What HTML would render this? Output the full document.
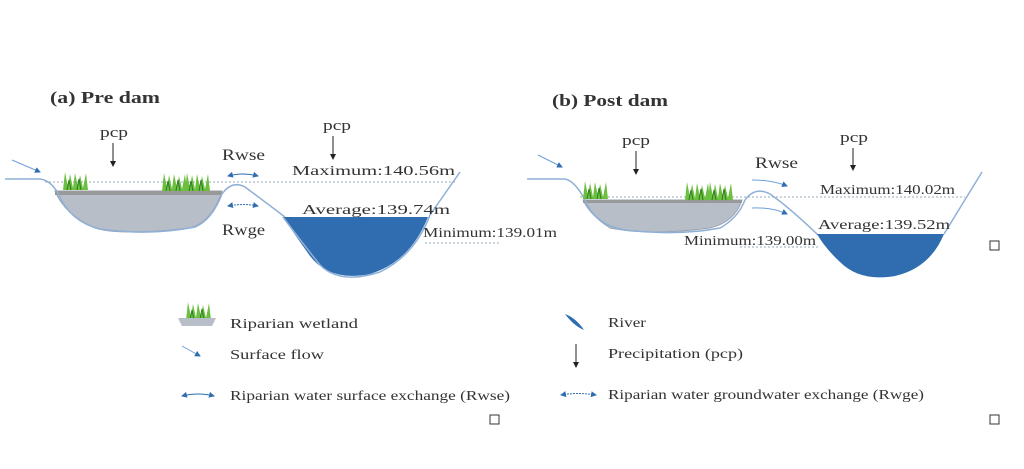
<!DOCTYPE html><html><head><style>body{margin:0;background:#fff}svg{display:block}text{font-family:"Liberation Serif",serif;fill:#333}</style></head><body>
<svg width="1024" height="469" viewBox="0 0 1024 469">
<defs>
<marker id="ah" markerWidth="6" markerHeight="6" refX="5" refY="3" orient="auto"><path d="M0,0L6,3L0,6z" fill="#2f6db0"/></marker>
<marker id="ahs" markerWidth="6" markerHeight="6" refX="1" refY="3" orient="auto"><path d="M6,0L0,3L6,6z" fill="#2f6db0"/></marker>
<marker id="ak" markerWidth="6" markerHeight="6" refX="5" refY="3" orient="auto"><path d="M0,0L6,3L0,6z" fill="#222"/></marker>
<g id="grass"><path d="M0,18 L2,0 L5,15 L7,2 L10,16 L12,1 L15,15 L17,3 L20,16 L23,1 L25,18 Z" fill="#6cbf3f"/><path d="M4,18 L6,8 L8,18 M14,18 L16,7 L18,18" stroke="#2e7d22" fill="none"/></g>
</defs>
<g lengthAdjust="spacingAndGlyphs">
<text x="50" y="103" font-size="17" font-weight="bold" fill="#222" textLength="110" lengthAdjust="spacingAndGlyphs">(a) Pre dam</text>
<path d="M55,191 L222,191 Q212,222 190,228 Q120,236 95,228 Q65,215 55,191Z" fill="#b7bec8" stroke="#9aa3b0"/>
<rect x="55" y="191" width="167" height="4" fill="#999"/>
<path d="M5,179 L40,179 Q50,180 58,193 Q70,222 100,229 Q150,236 195,227 Q212,220 222,194 Q232,180 245,187 Q260,198 285,217" fill="none" stroke="#8fb0d6" stroke-width="1.5"/>
<path d="M283,217 L428,217 Q410,262 370,274 Q330,282 310,256 Q295,235 283,217Z" fill="#2f6db0"/>
<path d="M283,217 Q300,240 320,265 Q340,285 380,272 Q415,255 430,215 L460,172" fill="none" stroke="#8fb0d6" stroke-width="1.5"/>
<line x1="45" y1="182" x2="455" y2="182" stroke="#9ab" stroke-dasharray="2,2"/>
<line x1="425" y1="243" x2="500" y2="243" stroke="#9ab" stroke-dasharray="2,2"/>
<use href="#grass" x="63" y="172"/><use href="#grass" x="162" y="173"/><use href="#grass" x="185" y="173"/>
<line x1="12" y1="160" x2="40" y2="172" stroke="#6fa0d8" marker-end="url(#ah)"/>
<text x="100" y="137" font-size="15" textLength="28" lengthAdjust="spacingAndGlyphs">pcp</text><line x1="113" y1="143" x2="113" y2="166" stroke="#222" marker-end="url(#ak)"/>
<text x="323" y="130" font-size="15" textLength="28" lengthAdjust="spacingAndGlyphs">pcp</text><line x1="333" y1="136" x2="333" y2="159" stroke="#222" marker-end="url(#ak)"/>
<text x="222" y="160" font-size="16" textLength="43" lengthAdjust="spacingAndGlyphs">Rwse</text><text x="222" y="235" font-size="16" textLength="43" lengthAdjust="spacingAndGlyphs">Rwge</text>
<path d="M228,176 Q243,172 258,176" fill="none" stroke="#2f6db0" marker-end="url(#ah)" marker-start="url(#ahs)"/>
<path d="M228,206 Q243,203 258,206" fill="none" stroke="#2f6db0" stroke-dasharray="2,1" marker-end="url(#ah)" marker-start="url(#ahs)"/>
<text x="292" y="175" font-size="14" textLength="163" lengthAdjust="spacingAndGlyphs">Maximum:140.56m</text>
<text x="302" y="214" font-size="14" textLength="148" lengthAdjust="spacingAndGlyphs">Average:139.74m</text>
<text x="423" y="237" font-size="14" textLength="134" lengthAdjust="spacingAndGlyphs">Minimum:139.01m</text>
<text x="552" y="106" font-size="17" font-weight="bold" fill="#222" textLength="116" lengthAdjust="spacingAndGlyphs">(b) Post dam</text>
<path d="M583,200 L742,200 Q735,222 710,228 Q650,236 610,228 Q590,215 583,200Z" fill="#b7bec8" stroke="#9aa3b0"/>
<rect x="583" y="200" width="159" height="3" fill="#999"/>
<path d="M527,179 L565,179 Q575,181 585,200 Q595,225 625,230 Q680,236 720,228 Q738,218 745,200 Q755,186 770,194 Q790,208 818,235" fill="none" stroke="#8fb0d6" stroke-width="1.5"/>
<path d="M817,234 L944,234 Q930,268 895,276 Q860,282 840,262 Q825,248 817,234Z" fill="#2f6db0"/>
<path d="M944,234 L982,172" fill="none" stroke="#8fb0d6" stroke-width="1.5"/>
<line x1="580" y1="197" x2="965" y2="197" stroke="#9ab" stroke-dasharray="2,2"/>
<line x1="740" y1="247" x2="820" y2="247" stroke="#9ab" stroke-dasharray="2,2"/>
<use href="#grass" x="583" y="181"/><use href="#grass" x="685" y="182"/><use href="#grass" x="708" y="182"/>
<line x1="538" y1="155" x2="562" y2="167" stroke="#6fa0d8" marker-end="url(#ah)"/>
<text x="622" y="145" font-size="15" textLength="28" lengthAdjust="spacingAndGlyphs">pcp</text><line x1="636" y1="151" x2="636" y2="174" stroke="#222" marker-end="url(#ak)"/>
<text x="840" y="142" font-size="15" textLength="28" lengthAdjust="spacingAndGlyphs">pcp</text><line x1="853" y1="148" x2="853" y2="170" stroke="#222" marker-end="url(#ak)"/>
<text x="755" y="168" font-size="16" textLength="43" lengthAdjust="spacingAndGlyphs">Rwse</text>
<path d="M752,180 Q772,180 787,186" fill="none" stroke="#6fa0d8" marker-end="url(#ah)"/>
<path d="M752,208 Q772,207 787,214" fill="none" stroke="#6fa0d8" marker-end="url(#ah)"/>
<text x="820" y="194" font-size="14" textLength="135" lengthAdjust="spacingAndGlyphs">Maximum:140.02m</text>
<text x="818" y="229" font-size="14" textLength="132" lengthAdjust="spacingAndGlyphs">Average:139.52m</text>
<text x="684" y="245" font-size="14" textLength="132" lengthAdjust="spacingAndGlyphs">Minimum:139.00m</text>
<rect x="990" y="241" width="9" height="9" fill="none" stroke="#333"/>
<rect x="990" y="415" width="9" height="9" fill="none" stroke="#333"/>
<rect x="490" y="415" width="9" height="9" fill="none" stroke="#333"/>
<use href="#grass" x="186" y="302"/>
<path d="M178,318 L216,318 L212,326 L182,326Z" fill="#b7bec8"/>
<text x="230" y="328" font-size="14" textLength="128" lengthAdjust="spacingAndGlyphs">Riparian wetland</text>
<line x1="182" y1="346" x2="200" y2="356" stroke="#6fa0d8" marker-end="url(#ah)"/>
<text x="230" y="359" font-size="14" textLength="94" lengthAdjust="spacingAndGlyphs">Surface flow</text>
<path d="M182,396 Q198,392 214,396" fill="none" stroke="#2f6db0" marker-end="url(#ah)" marker-start="url(#ahs)"/>
<text x="230" y="400" font-size="14" textLength="280" lengthAdjust="spacingAndGlyphs">Riparian water surface exchange (Rwse)</text>
<path d="M565,314 Q576,318 584,330 Q574,326 565,314Z" fill="#2f6db0"/>
<text x="608" y="327" font-size="14" textLength="38" lengthAdjust="spacingAndGlyphs">River</text>
<line x1="576" y1="344" x2="576" y2="367" stroke="#222" marker-end="url(#ak)"/>
<text x="608" y="358" font-size="14" textLength="135" lengthAdjust="spacingAndGlyphs">Precipitation (pcp)</text>
<path d="M561,395 Q578,392 596,395" fill="none" stroke="#2f6db0" stroke-dasharray="2,1" marker-end="url(#ah)" marker-start="url(#ahs)"/>
<text x="608" y="399" font-size="14" textLength="316" lengthAdjust="spacingAndGlyphs">Riparian water groundwater exchange (Rwge)</text>
</g>
</svg></body></html>
